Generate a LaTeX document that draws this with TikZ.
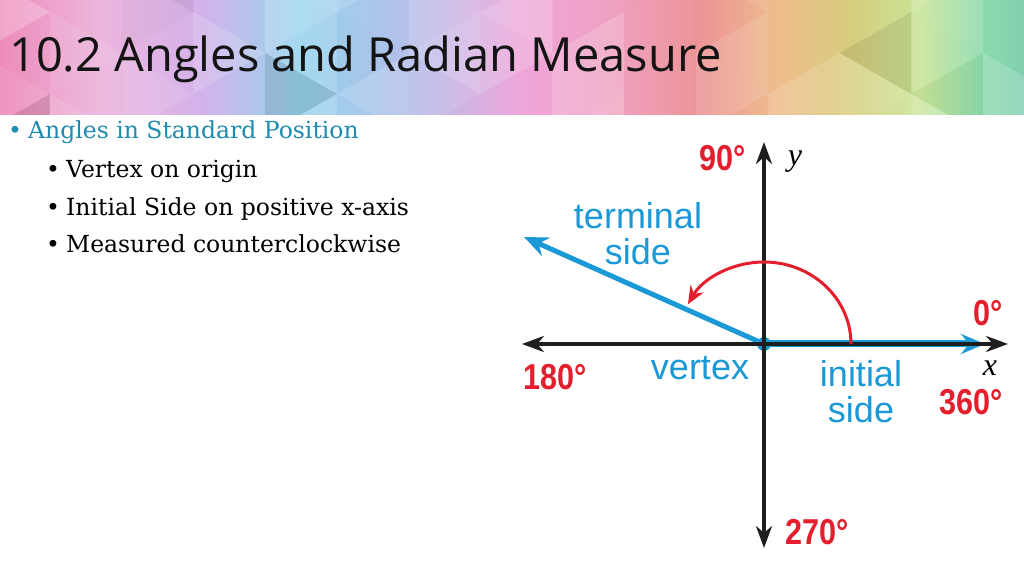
\documentclass[tikz,border=0pt]{standalone}
\usepackage{fontspec}
\usepackage{xcolor}
\usetikzlibrary{arrows.meta, positioning, calc}
\setmainfont{DejaVu Serif}
\newfontfamily\titlefont{Open Sans}
\newfontfamily\labfont{Liberation Sans}
\newfontfamily\degfont{Liberation Sans}[FakeStretch=0.85]
\newfontfamily\axfont{Liberation Serif}

\definecolor{degred}{RGB}{228,30,45}
\definecolor{sideblue}{RGB}{27,152,214}
\definecolor{headteal}{RGB}{30,139,176}
\definecolor{axisblack}{RGB}{30,30,30}
% banner colours, left to right
\definecolor{bnA}{RGB}{238,140,185}
\definecolor{bnB}{RGB}{236,182,222}
\definecolor{bnC}{RGB}{212,178,234}
\definecolor{bnD}{RGB}{150,212,238}
\definecolor{bnE}{RGB}{185,190,234}
\definecolor{bnF}{RGB}{238,165,218}
\definecolor{bnG}{RGB}{240,160,190}
\definecolor{bnH}{RGB}{236,148,150}
\definecolor{bnI}{RGB}{238,190,140}
\definecolor{bnJ}{RGB}{215,205,125}
\definecolor{bnK}{RGB}{200,228,150}
\definecolor{bnL}{RGB}{140,218,172}
\definecolor{bnM}{RGB}{128,208,176}

\pgfdeclarehorizontalshading{bannershade}{100bp}{%
  color(0bp)=(bnA); color(25bp)=(bnA); color(29.9bp)=(bnB);
  color(34.8bp)=(bnC); color(39.6bp)=(bnD); color(45.5bp)=(bnE);
  color(50.4bp)=(bnF); color(55.3bp)=(bnG); color(59.2bp)=(bnH);
  color(63.1bp)=(bnI); color(66.5bp)=(bnJ); color(69.9bp)=(bnK);
  color(72.9bp)=(bnL); color(75bp)=(bnM); color(100bp)=(bnM)}

\tikzset{
  deg/.style={text=degred, inner sep=0pt, font=\degfont\bfseries\fontsize{36}{36}\selectfont},
  sidelab/.style={text=sideblue, inner sep=0pt, align=center, font=\labfont\fontsize{36}{36}\selectfont},
  axlab/.style={inner sep=0pt, font=\axfont\itshape\fontsize{32}{32}\selectfont},
  axisline/.style={draw=axisblack, line width=3.4pt, {Stealth[length=22pt,width=16pt,inset=7pt]}-{Stealth[length=22pt,width=16pt,inset=7pt]}},
  sideline/.style={draw=sideblue, line width=5pt, -{Stealth[length=24pt,width=20pt,inset=8pt]}},
  bullet/.style={anchor=base west, inner sep=0pt, font=\fontsize{23.5}{28}\selectfont},
}

\begin{document}
\begin{tikzpicture}[x=1pt, y=1pt]
\useasboundingbox (0,0) rectangle (1024,575);
\fill[white] (0,0) rectangle (1024,575);

% banner
\begin{scope}
\clip (0,460) rectangle (1024,575);
\shade[shading=bannershade] (0,460) rectangle (1024,575);
\pgfmathsetseed{11}
\foreach \i in {0,...,15} {
  \pgfmathsetmacro\xa{-22+71.8*\i}
  \pgfmathsetmacro\xb{\xa+71.8}
  \pgfmathsetmacro\oy{460-82+41*mod(\i,2)-20}
  \foreach \j in {0,1,2} {
    \pgfmathsetmacro\ya{\oy+82*\j}
    \pgfmathsetmacro\ra{rnd}
    \pgfmathsetmacro\wa{max(0,0.5-\ra)*0.5}
    \pgfmathsetmacro\ba{max(0,\ra-0.8)*0.7}
    \fill[white, opacity=\wa] (\xa,\ya) -- (\xa,\ya+82) -- (\xb,\ya+41) -- cycle;
    \fill[black, opacity=\ba] (\xa,\ya) -- (\xa,\ya+82) -- (\xb,\ya+41) -- cycle;
    \pgfmathsetmacro\rb{rnd}
    \pgfmathsetmacro\wb{max(0,0.5-\rb)*0.5}
    \pgfmathsetmacro\bb{max(0,\rb-0.8)*0.7}
    \fill[white, opacity=\wb] (\xb,\ya+41) -- (\xb,\ya+123) -- (\xa,\ya+82) -- cycle;
    \fill[black, opacity=\bb] (\xb,\ya+41) -- (\xb,\ya+123) -- (\xa,\ya+82) -- cycle;
  }
}
\end{scope}
\node[anchor=base west, inner sep=0pt, text=black!92, font=\titlefont\fontsize{47}{56}\selectfont] (title) at (9,503) {10.2 Angles and Radian Measure};

% bullets
\node[bullet, text=headteal] (b0) at (8,436) {•};
\node[bullet, text=headteal] (head) at (28,436) {Angles in Standard Position};
\foreach \y/\t [count=\k] in {397/Vertex on origin, 359/Initial Side on positive x-axis, 322/Measured counterclockwise} {
  \node[bullet] (d\k) at (46,\y) {•};
  \node[bullet] (s\k) at (66,\y) {\t};
}

% axes and sides
\coordinate (O) at (764,231);
\coordinate (yt) at (764,433);
\coordinate (yb) at (764,27);
\coordinate (xl) at (522,231);
\coordinate (xr) at (1008,231);
\coordinate (T) at (524,338);
\coordinate (I) at (985,231);

\draw[sideline, line width=7pt] (O) -- (I);
\draw[sideline] (O) -- (T);
\fill[sideblue] (O) circle (7);
\draw[axisline] (xl) -- (xr);
\draw[axisline] (yb) -- (yt);
\draw[degred, line width=3pt, -{Stealth[length=18pt,width=15pt,inset=6pt]}] (O) ++(87,0) arc[start angle=0, end angle=151, x radius=87, y radius=82];

% labels
\node[deg] (d90) at (723,417) {90°};
\node[deg] (d0) at (988,262) {0°};
\node[deg] (d180) at (555,198) {180°};
\node[deg] (d360) at (971,173) {360°};
\node[deg] (d270) at (817,43) {270°};
\node[axlab] (ylab) at (795,413) {y};
\node[axlab] (xlab) at (990,207) {x};
\node[sidelab] (term) at (638,341) {terminal\\side};
\node[sidelab] (vert) at (700,207) {vertex};
\node[sidelab] (init) at (861,183) {initial\\side};
\end{tikzpicture}
\end{document}
